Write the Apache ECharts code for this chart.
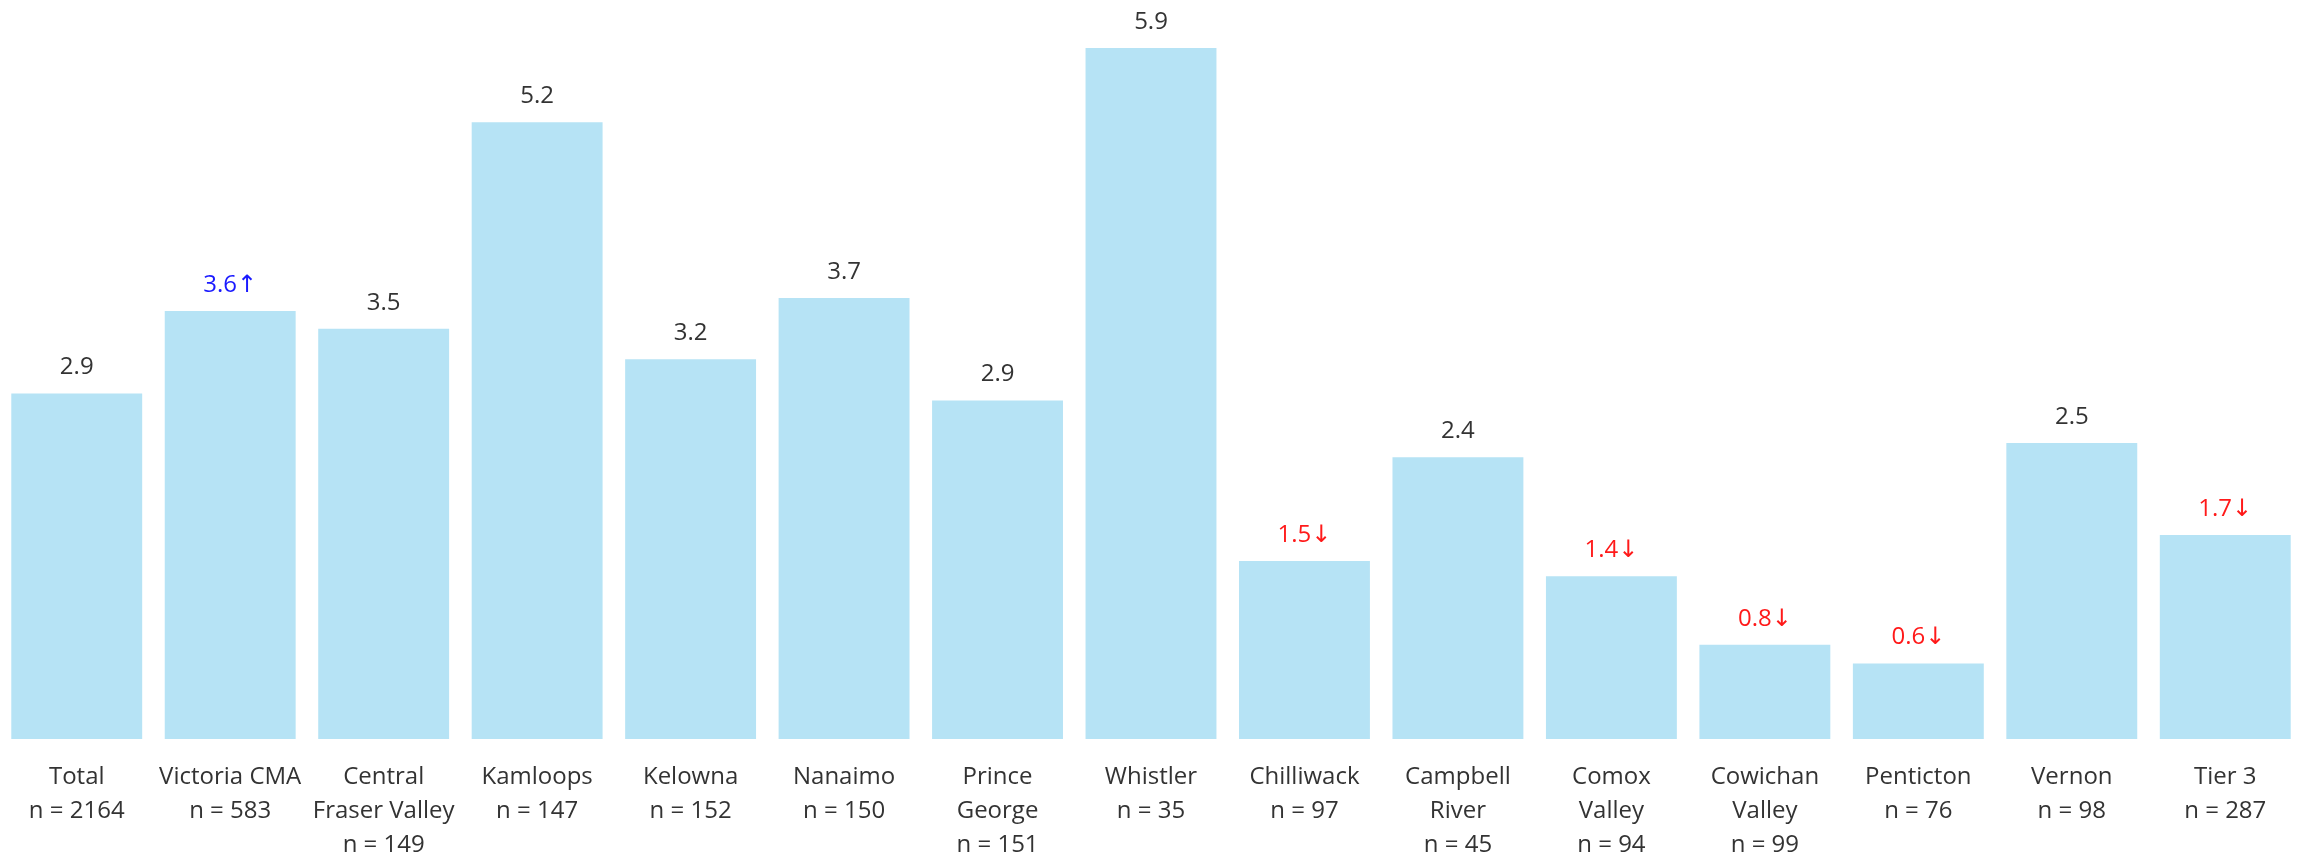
<!DOCTYPE html>
<html>
<head>
<meta charset="utf-8">
<script src="https://cdn.jsdelivr.net/npm/echarts@6/dist/echarts.min.js"></script>
<style>
  html, body { margin: 0; padding: 0; background: #ffffff; }
  #chart { width: 2302px; height: 862px; }
</style>
</head>
<body>
<div id="chart"></div>
<script>
const categories = ['Total', 'Victoria CMA', 'Central\nFraser Valley', 'Kamloops', 'Kelowna', 'Nanaimo', 'Prince\nGeorge', 'Whistler', 'Chilliwack', 'Campbell\nRiver', 'Comox\nValley', 'Cowichan\nValley', 'Penticton', 'Vernon', 'Tier 3'];
const sampleSizes = [2164, 583, 149, 147, 152, 150, 151, 35, 97, 45, 94, 99, 76, 98, 287];
const values = [2.93, 3.63, 3.48, 5.23, 3.22, 3.74, 2.87, 5.86, 1.51, 2.39, 1.38, 0.80, 0.64, 2.51, 1.73];
const significance = ['', 'up', '', '', '', '', '', '', 'down', '', 'down', 'down', 'down', '', 'down'];

const FONT = '"Open Sans", "DejaVu Sans", sans-serif';
const sigColor = { '': '#333333', up: '#1a1aff', down: '#ff1a1a' };
const sigArrow = { '': '', up: '\u2191', down: '\u2193' };

const axisLabels = categories.map((c, i) => c + '\nn = ' + sampleSizes[i]);
const barData = values.map((v, i) => ({
  value: v,
  label: {
    color: sigColor[significance[i]],
    formatter: v.toFixed(1) + sigArrow[significance[i]]
  }
}));

const chart = echarts.init(document.getElementById('chart'), null, { renderer: 'canvas' });
chart.setOption({
  animation: false,
  backgroundColor: '#ffffff',
  grid: { left: 0, right: 0, top: 8, bottom: 122, containLabel: false },
  xAxis: {
    type: 'category',
    data: axisLabels,
    axisLine: { show: false },
    axisTick: { show: false },
    axisLabel: {
      interval: 0,
      margin: 21,
      fontSize: 24,
      lineHeight: 34,
      color: '#333333',
      fontFamily: FONT
    }
  },
  yAxis: {
    type: 'value',
    min: 0,
    max: 6.2,
    show: false,
    splitLine: { show: false }
  },
  series: [{
    type: 'bar',
    data: barData,
    barCategoryGap: '14.7%',
    itemStyle: { color: '#b6e3f5' },
    label: {
      show: true,
      position: 'top',
      distance: 14,
      fontSize: 24,
      fontFamily: FONT
    }
  }]
});
</script>
</body>
</html>
